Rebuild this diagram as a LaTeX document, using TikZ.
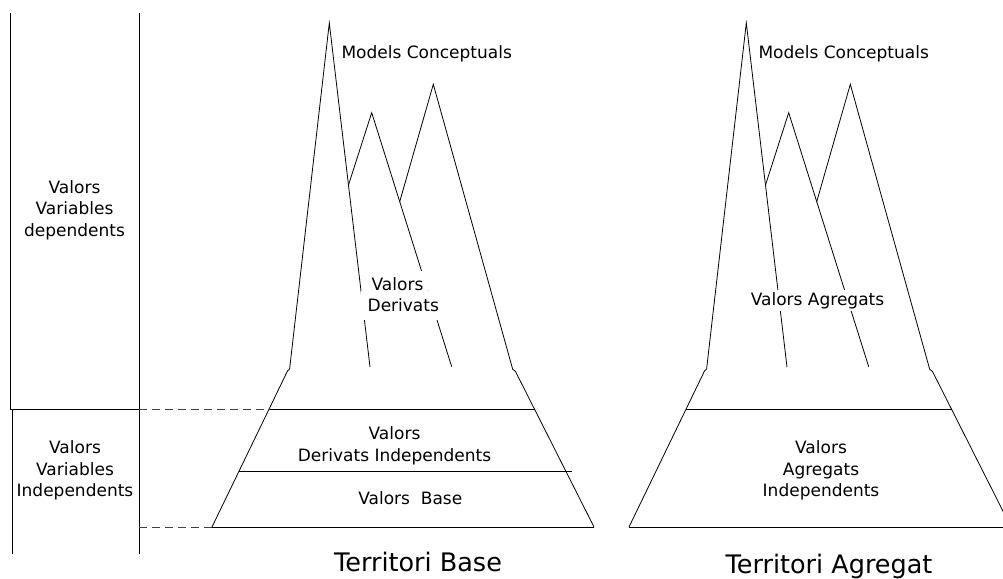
\documentclass[tikz,border=0pt]{standalone}
\usepackage{fontspec}
\setmainfont{DejaVu Sans}
\begin{document}
\begin{tikzpicture}[x=1pt,y=-1pt,
  ln/.style={draw=black, line width=0.8pt, line join=miter},
  guide/.style={draw=black!75, line width=0.8pt, dash pattern=on 8pt off 5pt},
  lbl/.style={font=\fontsize{17}{21.5}\selectfont, inner sep=0pt, align=center},
  cut/.style={lbl, fill=white, inner xsep=6pt, inner ysep=2pt},
  title/.style={font=\fontsize{25.5}{30}\selectfont, inner sep=0pt, anchor=base},
  % three peaks standing on a trapezoidal base
  massif/.pic={
    \coordinate (-bl) at (212,527);
    \coordinate (-br) at (594,527);
    \coordinate (-tl) at (287.5,371);
    \coordinate (-tl2) at (289.6,369);
    \coordinate (-tr) at (515.5,371.5);
    \coordinate (-tr2) at (512.7,369.3);
    \coordinate (-a1) at (329.3,23);
    \coordinate (-f1) at (370,367);
    \coordinate (-j2) at (348.5,185);
    \coordinate (-a2) at (371.7,112.7);
    \coordinate (-f2) at (451.7,366.7);
    \coordinate (-j3) at (399.7,201.7);
    \coordinate (-a3) at (433.3,84.3);
    \coordinate (-ml) at (269.1,409);
    \coordinate (-mr) at (534.6,409);
    \draw[ln] (-bl) -- (-br);
    \draw[ln] (-bl) -- (-tl) -- (-tl2) -- (-a1) -- (-f1);
    \draw[ln] (-br) -- (-tr) -- (-tr2) -- (-a3) -- (-j3);
    \draw[ln] (-j2) -- (-a2) -- (-f2);
    \draw[ln] (-ml) -- (-mr);
  }]
\useasboundingbox (0,0) rectangle (1003,578);
\clip (0,0) rectangle (1003,578);

% left-hand legend columns
\coordinate (c1t) at (10,13);
\coordinate (c1m) at (10,409);
\coordinate (c0m) at (12,409);
\coordinate (c0b) at (12,554);
\coordinate (c2t) at (139,13);
\coordinate (c2m) at (139,409);
\coordinate (c2l) at (139,527);
\coordinate (c2b) at (139,554);
\draw[ln] (c1t) -- (c1m) -- (c2m);
\draw[ln] (c0m) -- (c0b);
\draw[ln] (c2t) -- (c2b);
\node[lbl] (dep) at (74.5,210) {Valors\\Variables\\dependents};
\node[lbl] (indep) at (75,470.5) {Valors\\Variables\\Independents};

% the two territories
\pic (base) at (0,0) {massif};
\pic (agr) at (417,0) {massif};

% extra layer of the base territory
\coordinate (dl) at (239.1,471);
\coordinate (dr) at (572,471);
\draw[ln] (dl) -- (dr);

% dashed guides from the legend to the base territory
\draw[guide] (c2m) -- (base-ml);
\draw[guide] (c2l) -- (base-bl);

% labels of the base territory
\node[lbl, anchor=base] (mc1) at (426.7,58.3) {Models Conceptuals};
\node[cut, anchor=base, inner xsep=5pt, inner ysep=6pt] (vd1) at (397.5,290) {Valors};
\node[cut, anchor=base, inner xsep=6.5pt, inner ysep=8pt] (vd2) at (403.3,311.7) {Derivats};
\node[lbl] (vdi) at (394.5,445.6) {Valors\\Derivats Independents};
\node[lbl, anchor=base] (vb) at (410.3,504) {Valors\ \ Base};
\node[title] (tb) at (418,571.7) {Territori Base};

% labels of the aggregated territory
\node[lbl, anchor=base] (mc2) at (843.7,58.3) {Models Conceptuals};
\node[cut, anchor=base] (va) at (817.5,305) {Valors Agregats};
\node[lbl] (vai) at (821,470.5) {Valors\\Agregats\\Independents};
\node[title] (ta) at (829,573.3) {Territori Agregat};
\end{tikzpicture}
\end{document}
